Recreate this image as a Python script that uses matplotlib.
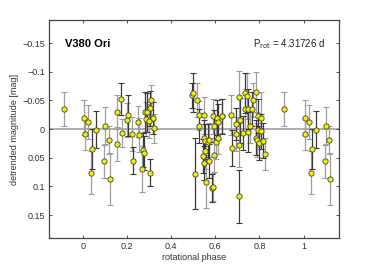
#!/usr/bin/env python
import matplotlib
matplotlib.use("Agg")
import matplotlib.pyplot as plt
import numpy as np

plt.rcParams['font.family'] = ['Liberation Sans', 'DejaVu Sans']

# rotational phase, detrended magnitude, error, dark error bar (1) or light (0)
phase = [0.005, 0.008, 0.023, 0.038, 0.035, 0.058, 0.095, 0.100, 0.117, 0.120,
         0.152, 0.155, 0.173, 0.176, 0.200, 0.205, 0.223, 0.227, 0.250, 0.255,
         0.267, 0.273, 0.276, 0.279, 0.283, 0.288, 0.297, 0.302, 0.305, 0.309,
         0.318, 0.321,
         0.492, 0.497, 0.509, 0.515, 0.524, 0.527, 0.545, 0.547, 0.548, 0.548,
         0.552, 0.555, 0.558, 0.567, 0.570, 0.570, 0.585, 0.588, 0.591, 0.592,
         0.595, 0.603, 0.608, 0.611, 0.614, 0.629, 0.632,
         0.671, 0.674, 0.692, 0.695, 0.705, 0.708, 0.709, 0.712, 0.727, 0.732,
         0.735, 0.745, 0.750, 0.750, 0.755, 0.767, 0.770, 0.786, 0.786, 0.789,
         0.791, 0.794, 0.797, 0.808, 0.809, 0.818, 0.823, 0.912]
mag = [-0.020, 0.009, -0.012, 0.035, 0.076, 0.001, 0.056, -0.006, 0.019, 0.087,
       0.026, -0.030, -0.053, 0.007, -0.016, -0.024, 0.009, 0.055, -0.013, 0.010,
       0.070, 0.037, 0.042, -0.029, -0.017, -0.029, -0.014, -0.036, 0.076, -0.050,
       -0.019, -0.001,
       -0.059, -0.063, 0.078, -0.051, -0.005, -0.024, 0.047, -0.024, 0.015, 0.059,
       0.020, 0.039, 0.092, 0.022, 0.019, 0.056, 0.103, 0.101, -0.022, -0.006,
       0.045, 0.022, -0.020, -0.013, 0.015, -0.023, -0.022,
       -0.024, 0.033, -0.009, 0.009, 0.117, -0.056, 0.027, -0.015, 0.007, -0.035,
       -0.063, -0.057, -0.035, 0.005, -0.005, -0.035, -0.051, -0.065, 0.015, 0.019,
       -0.023, 0.002, 0.024, 0.004, -0.019, 0.020, 0.044, -0.035]
err = [0.031, 0.028, 0.030, 0.035, 0.038, 0.032, 0.029, 0.032, 0.025, 0.045,
       0.030, 0.030, 0.028, 0.025, 0.030, 0.036, 0.030, 0.024, 0.027, 0.030,
       0.040, 0.030, 0.030, 0.035, 0.030, 0.034, 0.030, 0.030, 0.023, 0.026,
       0.028, 0.025,
       0.022, 0.034, 0.062, 0.030, 0.030, 0.025, 0.030, 0.032, 0.030, 0.030,
       0.028, 0.030, 0.046, 0.030, 0.030, 0.030, 0.025, 0.025, 0.030, 0.028,
       0.030, 0.030, 0.030, 0.030, 0.028, 0.030, 0.030,
       0.035, 0.032, 0.028, 0.030, 0.046, 0.046, 0.040, 0.040, 0.030, 0.035,
       0.035, 0.040, 0.035, 0.035, 0.030, 0.030, 0.030, 0.035, 0.030, 0.030,
       0.030, 0.030, 0.030, 0.030, 0.045, 0.030, 0.028, 0.030]
dark = [0, 0, 0, 1, 0, 1, 0, 0, 0, 0,
        0, 0, 1, 0, 0, 1, 0, 1, 0, 0,
        0, 1, 1, 1, 0, 1, 0, 1, 1, 0,
        1, 0,
        1, 1, 1, 0, 1, 0, 1, 0, 1, 1,
        1, 0, 0, 1, 0, 1, 1, 0, 0, 1,
        0, 0, 1, 1, 0, 0, 1,
        0, 1, 1, 0, 1, 0, 0, 1, 1, 0,
        1, 0, 1, 1, 0, 1, 0, 0, 1, 0,
        1, 0, 1, 1, 0, 1, 0, 0]

phase = np.array(phase)
mag = np.array(mag)
err = np.array(err)
dark = np.array(dark, dtype=bool)

# repeat the edges of the phase curve
lo = phase < 0.125
hi = phase > 0.875
ph = np.concatenate([phase, phase[lo] + 1, phase[hi] - 1])
mg = np.concatenate([mag, mag[lo], mag[hi]])
er = np.concatenate([err, err[lo], err[hi]])
dk = np.concatenate([dark, dark[lo], dark[hi]])

fig = plt.figure(figsize=(3.74, 2.68), dpi=100)
ax = fig.add_axes([0.131, 0.112, 0.775, 0.813])

ax.axhline(0, color='#a8a8a8', lw=1.3, zorder=1)
ax.errorbar(ph[~dk], mg[~dk], yerr=er[~dk], fmt='none', ecolor='#9e9e9e',
            elinewidth=0.9, capsize=2.2, capthick=0.8, zorder=2)
ax.errorbar(ph[dk], mg[dk], yerr=er[dk], fmt='none', ecolor='#3a3a3a',
            elinewidth=0.9, capsize=2.2, capthick=0.8, zorder=3)
ax.plot(ph, mg, 'o', ms=3.8, mfc='#f2f200', mec='#404040', mew=0.6, zorder=4)

ax.set_xlim(-0.155, 1.16)
ax.set_ylim(0.19, -0.19)
ax.set_xticks([0, 0.2, 0.4, 0.6, 0.8, 1])
ax.set_xticklabels(['0', '0.2', '0.4', '0.6', '0.8', '1'])
yt = [-0.15, -0.1, -0.05, 0, 0.05, 0.1, 0.15]
ax.set_yticks(yt)
ax.set_yticklabels(['\u22120.15', '\u22120.1', '\u22120.05', '0', '0.05', '0.1', '0.15'])
ax.tick_params(direction='in', top=True, right=True, length=2.5, width=0.6,
               labelsize=6.5, colors='#333333', pad=3)
for s in ax.spines.values():
    s.set_color('#444444')
    s.set_linewidth(0.9)

ax.set_xlabel('rotational phase', fontsize=6.5, color='#333333', labelpad=1)
ax.set_ylabel('detrended magnitude [mag]', fontsize=6.5, color='#333333', labelpad=2)

ax.text(-0.083, -0.149, 'V380 Ori', fontsize=8, fontweight='bold', va='center')
ax.text(0.77, -0.149, r'P$_{\rm rot}$ = 4.31726 d', fontsize=7, va='center',
        color='#222222')

plt.savefig('out.png', dpi=100)
